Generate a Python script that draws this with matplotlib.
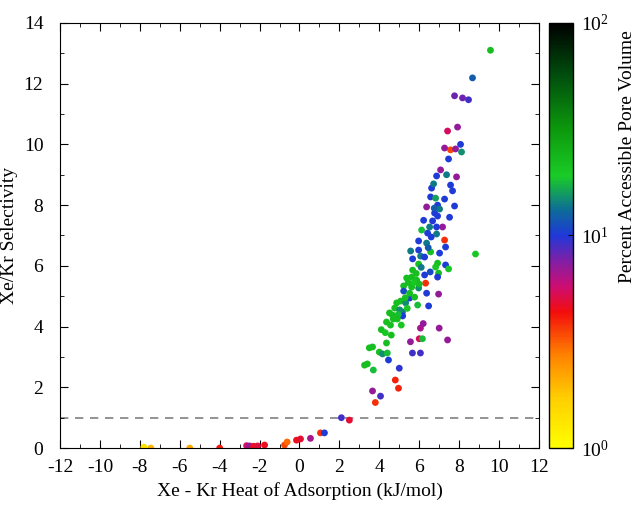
import numpy as np
import matplotlib
matplotlib.use("Agg")
import matplotlib.pyplot as plt
from matplotlib.colors import LinearSegmentedColormap, LogNorm
from matplotlib.ticker import NullLocator

plt.rcParams['font.family'] = ['Liberation Serif', 'DejaVu Serif']
plt.rcParams['mathtext.fontset'] = 'stix'
plt.rcParams['axes.unicode_minus'] = False

# heat of adsorption difference (kJ/mol), selectivity, percent accessible pore volume
heat = [-7.8, -7.45, -5.5, -4.0, -2.65, -2.5, -2.3, -2.1, -1.75, -0.75, -0.62, -0.15, 0.05, 0.55,
        1.05, 1.25, 2.1, 2.5,
        3.66, 4.06, 3.8, 4.8, 4.96, 5.0, 4.46, 3.26, 3.4, 3.7, 3.5, 3.66, 4.0, 4.16, 4.4, 4.36,
        4.6, 4.1, 4.36, 4.56, 4.66, 5.1, 5.16, 5.56, 5.66, 6.06, 6.0, 6.16, 6.06, 6.2, 7.0, 7.42,
        4.77, 4.51, 5.02, 5.17, 4.87, 5.07, 5.32, 5.52, 5.92, 6.47, 5.22, 5.62, 5.97, 5.22, 5.52,
        5.77, 6.37, 6.97, 5.37, 5.62, 5.87, 6.27, 6.97, 6.92, 6.32, 5.67, 5.97, 6.92, 7.32, 7.47,
        6.82, 8.82, 5.57, 5.97, 6.57, 7.02, 5.67, 6.07, 6.27, 5.97, 6.37, 7.32, 7.27, 6.12, 6.42,
        6.87, 6.52, 6.87, 7.17, 6.22, 6.67, 7.52, 6.77, 6.92, 6.37, 6.92, 7.02, 7.77, 6.57, 6.82,
        7.27, 6.62, 6.72, 7.57, 7.67,
        6.87, 7.07, 7.37, 7.87, 7.47, 7.57, 7.27, 7.82, 8.07, 8.12, 7.42, 7.92, 7.77, 8.17, 8.47,
        8.67, 9.57,
        4.3, 4.7, 4.95, 5.3, 5.45, 5.75, 5.85, 6.1, 6.45, 6.6, 6.75, 4.9, 5.4, 6.0, 6.55]
selectivity = [0.03, 0.0, 0.0, 0.0, 0.08, 0.07, 0.06, 0.07, 0.1, 0.1, 0.2, 0.26, 0.3, 0.32,
               0.5, 0.5, 1.0, 0.92,
               1.88, 1.71, 1.5, 2.24, 1.97, 2.63, 2.9, 2.73, 2.77, 2.57, 3.3, 3.33, 3.16, 3.1, 3.13, 3.46,
               3.72, 3.9, 4.15, 4.05, 4.38, 4.05, 4.48, 3.5, 3.13, 3.13, 3.6, 3.6, 3.95, 4.1, 3.95, 3.56,
               4.61, 4.45, 4.55, 4.35, 4.78, 4.84, 4.78, 4.94, 4.71, 4.68, 5.34, 5.3, 5.27, 5.17, 5.1,
               4.97, 5.1, 5.07, 5.6, 5.63, 5.53, 5.7, 5.76, 5.63, 5.43, 5.86, 6.06, 6.09, 6.03, 5.9,
               5.96, 6.39, 6.49, 6.52, 6.46, 6.42, 6.23, 6.32, 6.29, 6.82, 6.75, 6.62, 6.85, 7.18, 7.08,
               7.05, 7.28, 7.28, 7.28, 7.5, 7.48, 7.6, 7.74, 7.64, 7.94, 8.0, 7.87, 7.97, 8.27, 8.23,
               8.2, 8.56, 8.7, 8.66, 8.47,
               8.96, 9.16, 9.0, 8.93, 9.52, 9.82, 9.88, 9.85, 10.0, 9.75, 10.44, 10.57, 11.6, 11.53, 11.47,
               12.19, 13.1,
               3.8, 4.25, 4.4, 4.95, 5.45, 5.45, 5.75, 5.95, 6.6, 6.95, 7.9, 4.25, 4.6, 5.4, 5.8]
pore_volume = [1.4, 2.0, 2.2, 4.2, 5.5, 7, 4.6, 5, 4.6, 3.5, 3.0, 4.6, 4.8, 6.5,
               3.8, 10, 9, 4.8,
               7, 9, 3.8, 4, 4, 9.5, 10, 22, 22, 18, 22, 22, 22, 15, 18, 22,
               22, 22, 22, 22, 22, 20, 14, 7, 9, 9, 5.5, 18, 6.5, 7, 7, 7,
               22, 22, 15, 10, 22, 22, 15, 10, 18, 10, 22, 22, 15, 11, 22,
               22, 10, 7, 22, 22, 22, 10, 22, 10, 3.8, 22, 22, 22, 10, 20,
               20, 20, 14, 10, 22, 10, 10, 14, 10, 10, 14, 10, 3.8, 18, 10,
               14, 14, 10, 7, 10, 10, 10, 10, 10, 7, 10, 14, 10, 10, 16,
               10, 10, 14, 10, 10,
               10, 7, 14, 7, 10, 3.5, 7, 7, 10, 15, 5.5, 7, 8, 8, 9,
               12, 22,
               20, 22, 18, 22, 22, 20, 22, 14, 12, 10, 12, 22, 20, 22, 11]

cmap = LinearSegmentedColormap.from_list("pore", [
    (0.00, (1.0, 1.0, 0.0)),
    (0.12, (1.0, 0.8, 0.0)),
    (0.22, (1.0, 0.5, 0.0)),
    (0.32, (0.95, 0.05, 0.05)),
    (0.38, (0.8, 0.05, 0.45)),
    (0.44, (0.5, 0.12, 0.65)),
    (0.50, (0.12, 0.22, 0.85)),
    (0.56, (0.05, 0.42, 0.6)),
    (0.64, (0.1, 0.8, 0.15)),
    (0.75, (0.05, 0.6, 0.05)),
    (0.88, (0.0, 0.3, 0.05)),
    (1.00, (0.0, 0.0, 0.0)),
])

fig = plt.figure(figsize=(6.42, 5.21), dpi=100)
ax = fig.add_axes([0.0935, 0.14, 0.746, 0.816])
cax = fig.add_axes([0.855, 0.14, 0.037, 0.816])

ax.axhline(1.0, color='gray', ls=(0, (5, 4)), lw=1.2, zorder=1)
sc = ax.scatter(heat, selectivity, c=pore_volume, cmap=cmap, norm=LogNorm(1, 100),
                s=24, linewidths=0, zorder=2)

ax.set_xlim(-12, 12)
ax.set_ylim(0, 14)
ax.set_xticks(np.arange(-12, 13, 2))
ax.set_yticks(np.arange(0, 15, 2))
ax.set_xticks(np.arange(-12, 13, 1), minor=True)
ax.set_yticks(np.arange(0, 15, 1), minor=True)
ax.tick_params(which='both', direction='in', top=True, right=True, labelsize=14)
ax.tick_params(which='major', length=6)
ax.tick_params(which='minor', length=3)
ax.tick_params(axis='x', pad=8)
ax.tick_params(axis='y', pad=12)
ax.set_xlabel("Xe - Kr Heat of Adsorption (kJ/mol)", fontsize=14, labelpad=4)
ax.set_ylabel("Xe/Kr Selectivity", fontsize=14)

cb = fig.colorbar(sc, cax=cax)
cb.outline.set_linewidth(1)
cax.yaxis.set_minor_locator(NullLocator())
cb.ax.tick_params(which='both', direction='in', labelsize=14, pad=6)
fig.text(0.978, 0.70, "Percent Accessible Pore Volume", rotation=90,
         ha='center', va='center', fontsize=14)

fig.savefig("out.png", dpi=100)
